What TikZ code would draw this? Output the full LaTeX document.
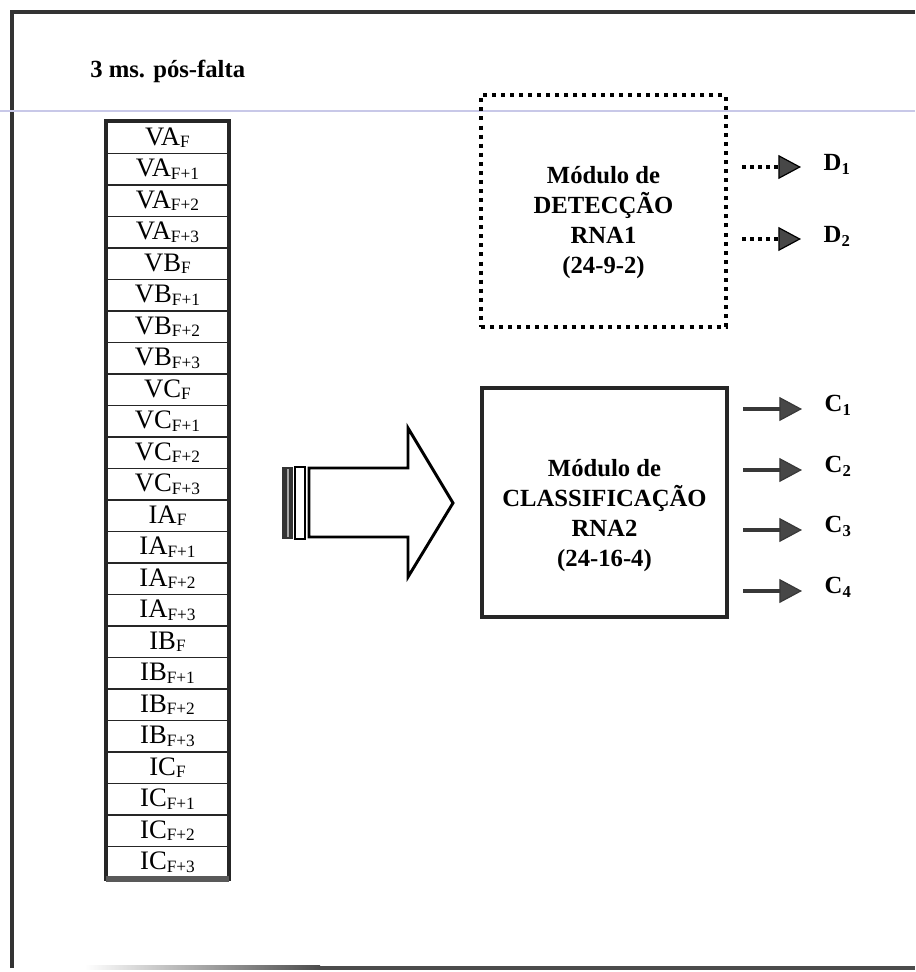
\documentclass[tikz,border=0pt]{standalone}
\usepackage{fontspec}
\setmainfont{Liberation Serif}
\usetikzlibrary{arrows.meta,positioning}
\definecolor{riscoscan}{RGB}{200,200,232}
\newcommand{\sinal}[2]{{\fontsize{20}{20}\selectfont #1}{\fontsize{13}{13}\selectfont\raisebox{-1.8pt}{#2}}}
\newcommand{\saida}[2]{{\fontsize{18.5}{18.5}\selectfont\bfseries #1}{\fontsize{12.5}{12.5}\selectfont\bfseries\raisebox{-3pt}{#2}}}

\begin{document}
\begin{tikzpicture}[x=0.75pt, y=-0.75pt,
					celula/.style={draw=black!85, line width=1.3pt, minimum width=90.75pt, minimum height=23.6pt, inner sep=0pt},
					modulo/.style={minimum width=183.75pt, inner sep=0pt},
					texto/.style={font=\fontsize{18.5}{22.5}\selectfont\bfseries, align=center},
					ponta/.style={-{Triangle[length=17pt, width=18pt, line width=0.9pt, fill=black!72]}},
					saidaD/.style={ponta, draw=black, line width=3pt, dash pattern=on 3pt off 3pt, shorten >=13.5pt},
					saidaC/.style={ponta, draw=black!78, line width=3.2pt, shorten >=13.5pt}]
					\useasboundingbox (0,0) rectangle (915,972);
					%Moldura
					\draw[black!80, line width=3pt] (12,968) -- (12,12) -- (915,12);
					\shade[left color=white, right color=black!70] (85,965.5) rectangle (320,969.5);
					\draw[black!70, line width=3pt] (320,967.5) -- (915,967.5);
					\draw[riscoscan, line width=1.3pt] (0,111) -- (915,111);
					% Titulo
					\node[anchor=base west, inner sep=0pt, font=\fontsize{18.5}{18.5}\selectfont\bfseries] (titulo) at (90,77) {3 ms. pós-falta};
					% Vetor de entrada
					\foreach \grand/\inst [count=\i] in {VA/F,VA/F+1,VA/F+2,VA/F+3,VB/F,VB/F+1,VB/F+2,VB/F+3,VC/F,VC/F+1,VC/F+2,VC/F+3,IA/F,IA/F+1,IA/F+2,IA/F+3,IB/F,IB/F+1,IB/F+2,IB/F+3,IC/F,IC/F+1,IC/F+2,IC/F+3}
						\node[celula] (r\i) at (167.5,{122+31.5*(\i-0.5)}) {\sinal{\grand}{\inst}};
					\draw[black!85, line width=3pt] (r1.north west) rectangle (r24.south east);
					\draw[black!65, line width=4pt] (r24.south west) -- (r24.south east);
					% Seta grande
					\fill[black!80] (282,467) rectangle (293,539);
					\draw[gray!70, line width=1.2pt] (288,469) -- (288,537);
					\draw[line width=1.8pt] (295,467) rectangle (305,539);
					\draw[line width=2.2pt] (309,468) -- (408,468) -- (408,428) -- (453,503) -- (408,577) -- (408,537) -- (309,537) -- cycle;
					% Modulos
					\node[modulo, minimum height=174pt, draw=black, line width=3pt, dash pattern=on 3pt off 3.8pt] (det) at (603.5,211) {};
					\node[texto] (dettxt) at (603.5,223) {Módulo de\\DETECÇÃO\\RNA1\\(24-9-2)};
					\node[modulo, minimum height=171.75pt, draw=black!85, line width=3pt] (cls) at (604.5,502.5) {};
					\node[texto] (clstxt) at (604.5,516) {Módulo de\\CLASSIFICAÇÃO\\RNA2\\(24-16-4)};
					% Saidas
					\foreach \k/\yy in {1/167,2/239} {
						\node[anchor=west] (d\k) at (819,{\yy-3}) {\saida{D}{\k}};
						\coordinate (ds\k) at (742,\yy);
						\draw[saidaD] (ds\k) -- (ds\k -| d\k.west);
					}
					\foreach \k/\yy in {1/409,2/470,3/530,4/591} {
						\node[anchor=west] (c\k) at (820,{\yy-4}) {\saida{C}{\k}};
						\coordinate (cs\k) at (743,\yy);
						\draw[saidaC] (cs\k) -- (cs\k -| c\k.west);
					}
				\end{tikzpicture}
\end{document}
